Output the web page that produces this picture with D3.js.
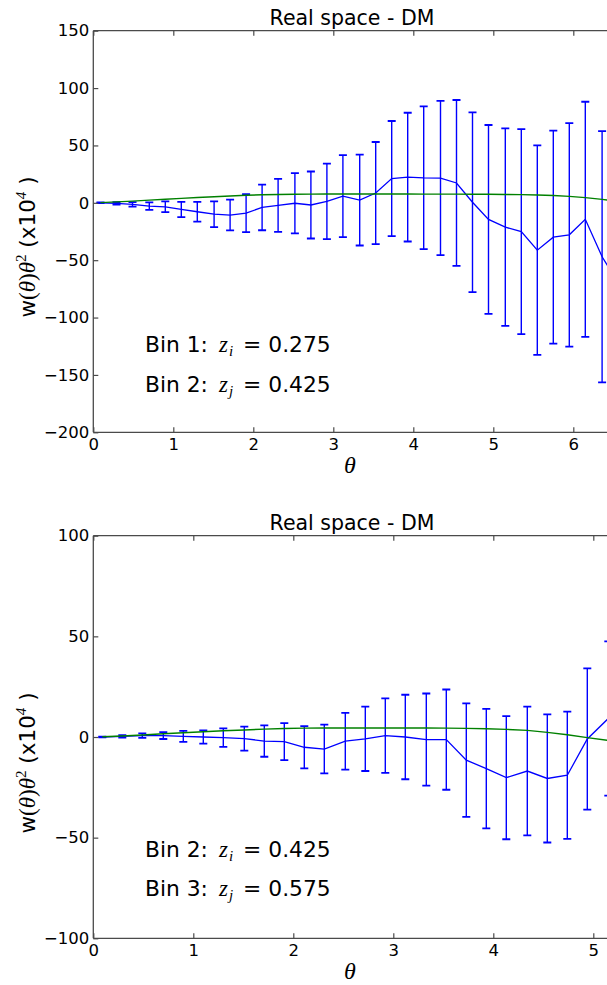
<!DOCTYPE html>
<html>
<head>
<meta charset="utf-8">
<script src="https://cdn.jsdelivr.net/npm/d3@7"></script>
<style>
  body { margin: 0; background: #fff; }
  svg { display: block; }
  text { font-family: "DejaVu Sans", sans-serif; fill: #000; }
  .math { font-family: "Liberation Serif", "DejaVu Serif", serif; font-style: italic; }
  .mathup { font-family: "Liberation Serif", "DejaVu Serif", serif; }
</style>
</head>
<body>
<svg id="fig" width="607" height="985"></svg>
<script>
// Angular bins (theta) shared by both panels
const theta = [0.09, 0.29, 0.49, 0.70, 0.90, 1.10, 1.30, 1.51, 1.71, 1.91, 2.11, 2.31,
               2.52, 2.72, 2.92, 3.12, 3.33, 3.53, 3.73, 3.93, 4.13, 4.34, 4.54, 4.74,
               4.94, 5.15, 5.35, 5.55, 5.75, 5.95, 6.15, 6.36, 6.56];

// Panel 1: bins 1 x 2, measured w(theta) theta^2 (x1e4) with errors, and model
const wTop = [0, -0.5, -1.4, -2.9, -3.5, -5.8, -7.8, -9.9, -10.7, -9.0, -4.0, -2.3,
              -0.4, -1.9, 1.2, 5.8, 2.4, 8.5, 21.1, 22.4, 21.8, 21.6, 17.3, 0.5,
              -14.5, -21.2, -25.1, -41.3, -29.9, -27.9, -14.4, -47, -70];
const errTop = [0.3, 1.0, 2.0, 3.2, 4.7, 6.7, 8.6, 11.2, 13.4, 16.6, 19.9, 23.1,
                26.3, 29.2, 32.9, 35.7, 39.6, 44.5, 50.2, 56.1, 62.2, 67.2, 72.3, 78.4,
                82.3, 86.1, 89.4, 91.3, 92.8, 97.4, 102.5, 109.5, 115];
const modelTop = [0.2, 0.8, 1.5, 2.3, 3.1, 3.9, 4.6, 5.3, 6.0, 6.6, 7.0, 7.3,
                  7.5, 7.6, 7.7, 7.7, 7.7, 7.7, 7.7, 7.7, 7.6, 7.6, 7.6, 7.5,
                  7.4, 7.3, 7.1, 6.8, 6.4, 5.6, 4.5, 3.0, 1.2];

// Panel 2: bins 2 x 3
const wBot = [0, 0.3, 0.7, 0.7, 0.3, 0, -0.3, -0.8, -2.0, -2.3, -5.1, -6.0,
              -2.1, -0.9, 0.7, 0, -1.3, -1.3, -11.5, -15.7, -20.2, -16.9, -20.6, -19.0,
              -1.0, 9.2];
const errBot = [0.2, 0.6, 1.1, 1.7, 2.7, 3.3, 4.6, 6.0, 7.8, 9.2, 10.5, 12.1,
                14.1, 16.0, 18.5, 21.0, 22.9, 24.9, 28.2, 29.7, 30.6, 32.0, 31.8, 31.6,
                35.1, 38.3];
const modelBot = [0.1, 0.5, 1.0, 1.6, 2.1, 2.6, 3.1, 3.5, 3.9, 4.2, 4.4, 4.5,
                  4.5, 4.5, 4.5, 4.5, 4.5, 4.4, 4.3, 4.1, 3.8, 3.3, 2.3, 1.1,
                  -0.3, -1.7];

const topYTicks = [150, 100, 50, 0, -50, -100, -150, -200];
const topXTicks = [0, 1, 2, 3, 4, 5, 6];
const botYTicks = [100, 50, 0, -50, -100];
const botXTicks = [0, 1, 2, 3, 4, 5];

const titleText = "Real space - DM";
const topBins = [["Bin 1:", "i", "= 0.275"], ["Bin 2:", "j", "= 0.425"]];
const botBins = [["Bin 2:", "i", "= 0.425"], ["Bin 3:", "j", "= 0.575"]];

const svg = d3.select("#fig");
const W = 607;
const blue = "#0000ff", green = "#008000", spine = "#4a4a4a";

function drawPanel(cfg) {
  const g = svg.append("g");
  const x = d3.scaleLinear().domain([0, 1]).range([cfg.left, cfg.left + cfg.pxPerUnit]);
  const y = d3.scaleLinear().domain(cfg.yDomain).range([cfg.bottom, cfg.top]);
  const n = cfg.w.length;
  const th = theta.slice(0, n);

  const clipId = "clip" + cfg.id;
  svg.append("clipPath").attr("id", clipId)
    .append("rect").attr("x", cfg.left).attr("y", cfg.top)
    .attr("width", W - cfg.left + 50).attr("height", cfg.bottom - cfg.top);

  const data = g.append("g").attr("clip-path", `url(#${clipId})`);

  // error bars
  const eb = data.append("g").attr("stroke", blue).attr("stroke-width", 1.4);
  th.forEach((t, i) => {
    const xv = x(t), lo = y(cfg.w[i] - cfg.err[i]), hi = y(cfg.w[i] + cfg.err[i]);
    eb.append("line").attr("x1", xv).attr("x2", xv).attr("y1", lo).attr("y2", hi);
    eb.append("line").attr("x1", xv - 4).attr("x2", xv + 4).attr("y1", lo).attr("y2", lo).attr("stroke-width", 1.8);
    eb.append("line").attr("x1", xv - 4).attr("x2", xv + 4).attr("y1", hi).attr("y2", hi).attr("stroke-width", 1.8);
  });

  const line = d3.line().x(d => x(d[0])).y(d => y(d[1]));
  data.append("path").datum(th.map((t, i) => [t, cfg.w[i]]))
    .attr("d", line).attr("fill", "none").attr("stroke", blue).attr("stroke-width", 1.3);
  data.append("path").datum(th.map((t, i) => [t, cfg.model[i]]))
    .attr("d", line).attr("fill", "none").attr("stroke", green).attr("stroke-width", 1.4);

  // axes (inward ticks)
  const fmt = d3.format("d");
  const ax = g.append("g");
  const yAxis = d3.axisLeft(y).tickValues(cfg.yTicks).tickSize(-5).tickPadding(4).tickFormat(fmt);
  ax.append("g").attr("transform", `translate(${cfg.left},0)`).call(yAxis)
    .call(s => s.select(".domain").remove())
    .call(s => s.selectAll("text").style("font-size", "16.5px").style("font-family", "DejaVu Sans"));
  const xAxis = d3.axisBottom(x).tickValues(cfg.xTicks).tickSize(-5).tickPadding(6).tickFormat(fmt);
  ax.append("g").attr("transform", `translate(0,${cfg.bottom})`).call(xAxis)
    .call(s => s.select(".domain").remove())
    .call(s => s.selectAll("text").style("font-size", "16.5px").style("font-family", "DejaVu Sans"));
  const xTop = d3.axisTop(x).tickValues(cfg.xTicks).tickSize(-5).tickFormat("");
  ax.append("g").attr("transform", `translate(0,${cfg.top})`).call(xTop)
    .call(s => s.select(".domain").remove());
  ax.selectAll(".tick line").attr("stroke", spine).attr("stroke-width", 1.2);

  // spines
  const sp = g.append("g").attr("stroke", spine).attr("stroke-width", 1.3).attr("fill", "none");
  sp.append("line").attr("x1", cfg.left).attr("x2", cfg.left).attr("y1", cfg.top).attr("y2", cfg.bottom);
  sp.append("line").attr("x1", cfg.left).attr("x2", W).attr("y1", cfg.bottom).attr("y2", cfg.bottom);
  sp.append("line").attr("x1", cfg.left).attr("x2", W).attr("y1", cfg.top).attr("y2", cfg.top);

  // title
  g.append("text").attr("x", 352).attr("y", cfg.top - 6).attr("text-anchor", "middle")
    .style("font-size", "20.5px").text(titleText);

  // x label
  g.append("text").attr("class", "math").attr("x", 350).attr("y", cfg.bottom + 41)
    .attr("text-anchor", "middle").style("font-size", "24px").text("θ");

  // y label
  const yl = g.append("text")
    .attr("transform", `translate(35,${cfg.yLabelMid}) rotate(-90)`)
    .attr("text-anchor", "middle").style("font-size", "21.5px");
  yl.append("tspan").text("w");
  yl.append("tspan").attr("class", "mathup").style("font-size", "23px").text("(");
  yl.append("tspan").attr("class", "math").style("font-size", "23px").text("θ");
  yl.append("tspan").attr("class", "mathup").style("font-size", "23px").text(")");
  yl.append("tspan").attr("class", "math").style("font-size", "23px").text("θ");
  yl.append("tspan").attr("class", "mathup").attr("dy", -9).style("font-size", "15px").text("2");
  yl.append("tspan").attr("dy", 9).text(" (x10");
  yl.append("tspan").attr("class", "math").attr("dy", -9).style("font-size", "15px").text("4");
  yl.append("tspan").attr("dy", 9).text(" )");

  // bin annotations
  cfg.bins.forEach((b, i) => {
    const t = g.append("text").attr("x", 145).attr("y", cfg.binY[i]).style("font-size", "21.8px");
    t.append("tspan").text(b[0]);
    t.append("tspan").attr("class", "math").attr("dx", 11).style("font-size", "23px").text("z");
    t.append("tspan").attr("class", "math").attr("dx", 1).attr("dy", 4).style("font-size", "15px").text(b[1]);
    t.append("tspan").attr("dx", 10).attr("dy", -4).text(b[2]);
  });
}

drawPanel({
  id: 1, left: 93.3, top: 30.7, bottom: 432.3, pxPerUnit: 80,
  yDomain: [-200, 150], yTicks: topYTicks, xTicks: topXTicks,
  w: wTop, err: errTop, model: modelTop,
  yLabelMid: 247, bins: topBins, binY: [352, 392]
});
drawPanel({
  id: 2, left: 93.3, top: 535.7, bottom: 938.3, pxPerUnit: 100,
  yDomain: [-100, 100], yTicks: botYTicks, xTicks: botXTicks,
  w: wBot, err: errBot, model: modelBot,
  yLabelMid: 763, bins: botBins, binY: [857, 896]
});
</script>
</body>
</html>
